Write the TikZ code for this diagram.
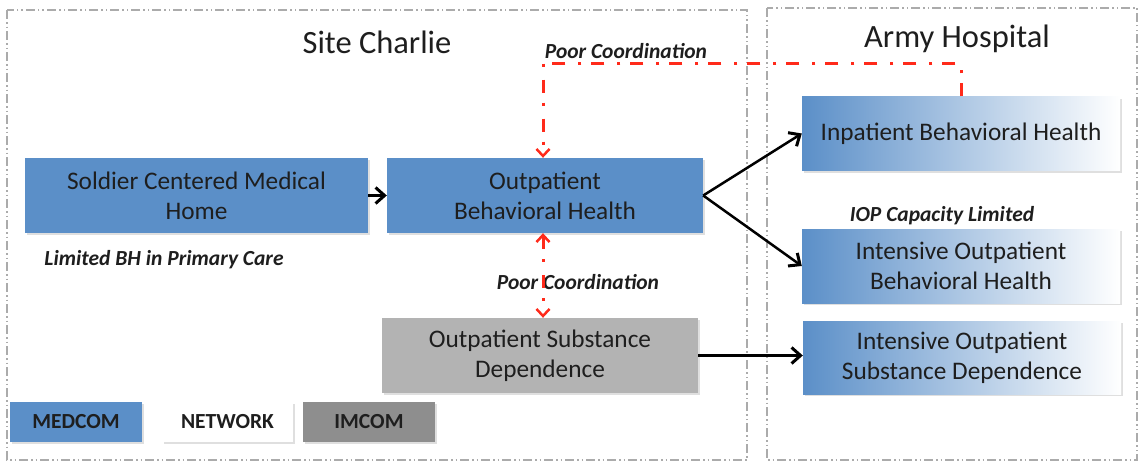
\documentclass[tikz,border=0pt]{standalone}
\usepackage{fontspec}
\setmainfont{Carlito}
\usetikzlibrary{arrows.meta,shadows}
\definecolor{medblue}{HTML}{5B8FC8}
\definecolor{osdgray}{HTML}{B3B3B3}
\definecolor{imgray}{HTML}{8E8E8E}
\definecolor{frame}{HTML}{ABABAB}
\definecolor{redline}{HTML}{FF2A1A}
\definecolor{txt}{HTML}{1E1E1E}
\tikzset{
  box/.style={minimum width=316pt, minimum height=75pt, inner sep=0pt, align=center,
     text=txt, font=\fontsize{25.3}{30}\selectfont,
     drop shadow={shadow xshift=1.5pt, shadow yshift=-2pt, opacity=0.25}},
  bluebox/.style={box, fill=medblue},
  graybox/.style={box, fill=osdgray},
  gradbox/.style={box, minimum width=318pt, minimum height=74pt, left color=medblue, right color=white},
  legend/.style={minimum width=132pt, minimum height=40pt, inner sep=0pt, text=txt,
     font=\fontsize{21.5}{24}\selectfont\bfseries,
     drop shadow={shadow xshift=1.5pt, shadow yshift=-2pt, opacity=0.25}},
  container/.style={draw=frame, line width=1.5pt, dash pattern=on 9pt off 3pt on 1.5pt off 3pt on 1.5pt off 3pt},
  title/.style={text=txt, font=\fontsize{32.5}{36}\selectfont},
  note/.style={text=txt, font=\fontsize{21.5}{24}\selectfont\bfseries\itshape},
  blackarrow/.style={draw=black, line width=3pt, -{Straight Barb[length=9pt,width=16pt,line width=3pt]}},
  redarrow/.style={draw=redline, line width=3pt, dash pattern=on 13pt off 10pt on 3pt off 13pt,
     -{Straight Barb[length=7pt,width=13pt,line width=2.5pt]}},
}
\begin{document}
\begin{tikzpicture}[x=1pt,y=-1pt]
\useasboundingbox (0,0) rectangle (1140,463);
% containers
\draw[container] (7,10) rectangle (747,460);
\draw[container] (767,8) rectangle (1137,460);
\node[title] (t1) at (377,42) {Site Charlie};
\node[title] (t2) at (957,39) {Army Hospital};
% boxes
\node[bluebox, minimum width=343pt] (scmh) at (196.5,195.5) {Soldier Centered Medical\\Home};
\node[bluebox] (obh) at (545,195.5) {Outpatient\\Behavioral Health};
\node[graybox] (osd) at (540,355.5) {Outpatient Substance\\Dependence};
\node[gradbox] (ibh) at (961,133.5) {Inpatient Behavioral Health};
\node[gradbox] (iobh) at (961,266) {Intensive Outpatient\\Behavioral Health};
\node[gradbox, minimum height=73pt] (iosd) at (962,357.5) {Intensive Outpatient\\Substance Dependence};
% legend
\node[legend, fill=medblue] (l1) at (76,422) {MEDCOM};
\node[legend, fill=white, minimum width=131pt] (l2) at (227.5,422) {NETWORK};
\node[legend, fill=imgray] (l3) at (369,422) {IMCOM};
% notes
\node[note] (n1) at (164,260) {Limited BH in Primary Care};
\node[note] (n2) at (626,51) {Poor Coordination};
\node[note] (n3) at (578,282) {Poor Coordination};
\node[note] (n4) at (942,216) {IOP Capacity Limited};
% connectors
\draw[blackarrow, line width=3.5pt] (scmh.east) -- (obh.west);
\draw[blackarrow, line width=2.5pt] (obh.east) -- (ibh.west);
\draw[blackarrow, line width=2.5pt] (obh.east) -- (iobh.west);
\draw[blackarrow, line width=2.5pt] (osd.east) -- (osd.east -| iosd.west);
\coordinate (topline) at (0,63);
\draw[redarrow] (ibh.north) -- (ibh.north |- topline) -| ([xshift=-2pt]obh.north);
\draw[redarrow, {Straight Barb[length=7pt,width=13pt,line width=2.5pt]}-{Straight Barb[length=7pt,width=13pt,line width=2.5pt]}]
  ([xshift=-2pt]obh.south) -- ([xshift=-2pt]obh.south |- osd.north);
\end{tikzpicture}
\end{document}
